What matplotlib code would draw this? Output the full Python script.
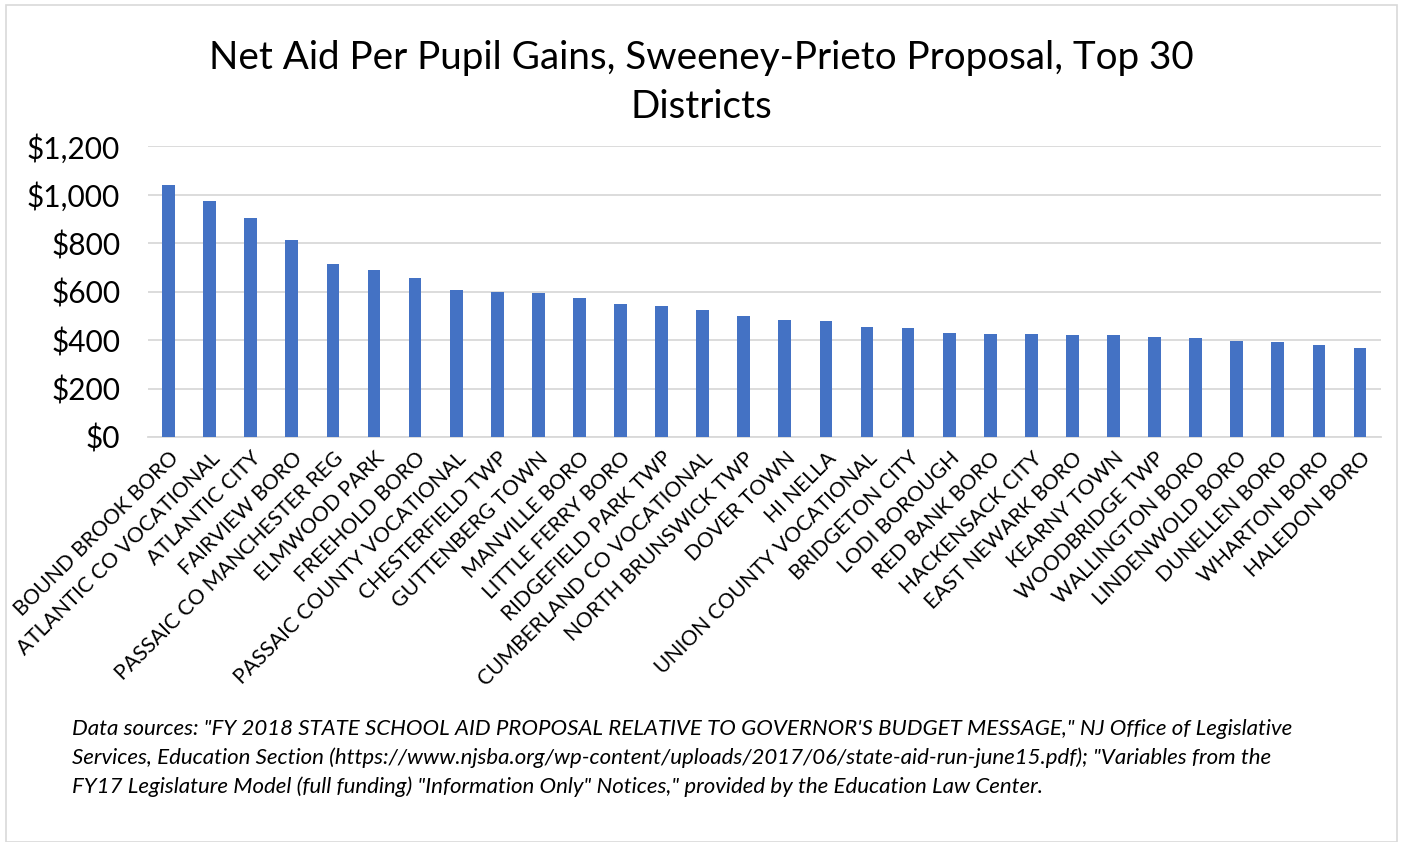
import matplotlib.pyplot as plt
from matplotlib.patches import Rectangle
from matplotlib.ticker import FuncFormatter

plt.rcParams['font.family'] = ['Lato', 'DejaVu Sans']

# Data
districts = [
    "BOUND BROOK BORO", "ATLANTIC CO VOCATIONAL", "ATLANTIC CITY", "FAIRVIEW BORO",
    "PASSAIC CO MANCHESTER REG", "ELMWOOD PARK", "FREEHOLD BORO",
    "PASSAIC COUNTY VOCATIONAL", "CHESTERFIELD TWP", "GUTTENBERG TOWN",
    "MANVILLE BORO", "LITTLE FERRY BORO", "RIDGEFIELD PARK TWP",
    "CUMBERLAND CO VOCATIONAL", "NORTH BRUNSWICK TWP", "DOVER TOWN", "HI NELLA",
    "UNION COUNTY VOCATIONAL", "BRIDGETON CITY", "LODI BOROUGH", "RED BANK BORO",
    "HACKENSACK CITY", "EAST NEWARK BORO", "KEARNY TOWN", "WOODBRIDGE TWP",
    "WALLINGTON BORO", "LINDENWOLD BORO", "DUNELLEN BORO", "WHARTON BORO",
    "HALEDON BORO",
]
gains = [
    1038, 975, 904, 814, 712, 688, 655, 608, 600, 592,
    575, 547, 542, 522, 500, 481, 477, 452, 449, 427,
    426, 425, 422, 421, 411, 410, 397, 392, 378, 368,
]
y_ticks = [0, 200, 400, 600, 800, 1000, 1200]

title = "Net Aid Per Pupil Gains, Sweeney-Prieto Proposal, Top 30\nDistricts"
note = ('Data sources: "FY 2018 STATE SCHOOL AID PROPOSAL RELATIVE TO GOVERNOR\'S BUDGET MESSAGE," NJ Office of Legislative\n'
        'Services, Education Section (https://www.njsba.org/wp-content/uploads/2017/06/state-aid-run-june15.pdf); "Variables from the\n'
        'FY17 Legislature Model (full funding) "Information Only" Notices," provided by the Education Law Center.')

fig = plt.figure(figsize=(14.03, 8.42), dpi=100)
ax = fig.add_axes([0.1055, 0.481, 0.8785, 0.3455])

x = range(len(districts))
ax.bar(x, gains, width=0.31, color="#4472C4", zorder=3)

ax.set_xlim(-0.5, len(districts) - 0.5)
ax.set_ylim(0, 1200)
ax.set_yticks(y_ticks)
ax.yaxis.set_major_formatter(FuncFormatter(lambda v, p: f"${v:,.0f}"))
ax.tick_params(axis="y", labelsize=21.5, length=0, pad=20)
ax.set_xticks(list(x))
ax.set_xticklabels(districts, rotation=45, ha="right", rotation_mode="anchor", fontsize=15.2)
ax.tick_params(axis="x", length=0, pad=8)
ax.grid(axis="y", color="#d9d9d9", linewidth=1.3, zorder=0)
for s in ["top", "right", "left"]:
    ax.spines[s].set_visible(False)
ax.spines["bottom"].set_color("#d9d9d9")
ax.spines["bottom"].set_linewidth(1.3)

fig.text(0.5, 0.953, title, ha="center", va="top", fontsize=27.8, linespacing=1.45)
fig.text(0.051, 0.146, note, ha="left", va="top", fontsize=16, style="italic", linespacing=1.5)

fig.patches.append(Rectangle((0.004, 0.0), 0.992, 0.994, transform=fig.transFigure,
                             fill=False, edgecolor="#d9d9d9", linewidth=1.2))

fig.savefig("out.png", dpi=100)
